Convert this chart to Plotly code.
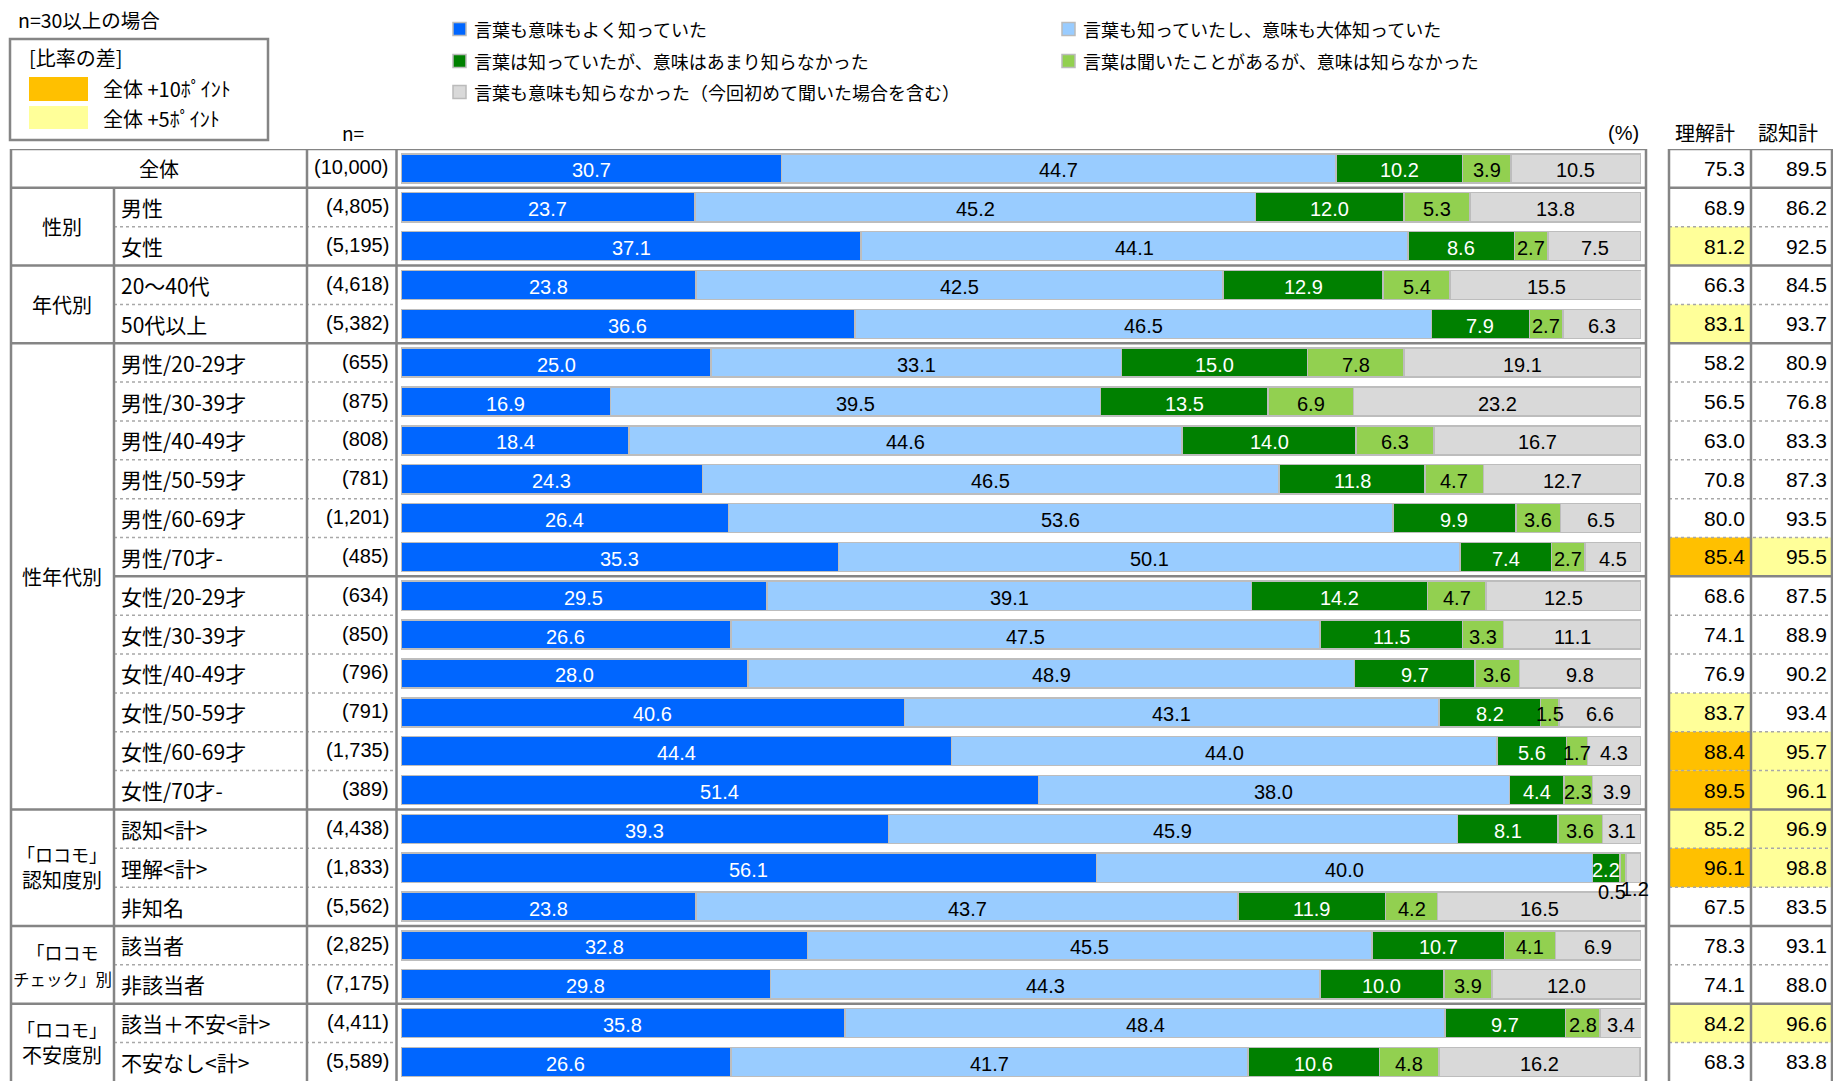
import numpy as np
import plotly.graph_objects as go

W, H = 1833, 1081

# ---------------- data ----------------
series_names = [
    "言葉も意味もよく知っていた",
    "言葉も知っていたし、意味も大体知っていた",
    "言葉は知っていたが、意味はあまり知らなかった",
    "言葉は聞いたことがあるが、意味は知らなかった",
    "言葉も意味も知らなかった（今回初めて聞いた場合を含む）",
]
groups = ["全体", "性別", "年代別", "性年代別",
          "<span style='font-size:18px'>「ロコモ」</span><br>認知度別",
          "<span style='font-size:18px'>「ロコモ</span><br><span style='font-size:16.5px'>チェック」別</span>",
          "<span style='font-size:18px'>「ロコモ」</span><br>不安度別"]
group_sizes = [1, 2, 2, 12, 3, 2, 2]
labels = ["全体", "男性", "女性", "20～40代", "50代以上",
          "男性/20-29才", "男性/30-39才", "男性/40-49才", "男性/50-59才", "男性/60-69才", "男性/70才-",
          "女性/20-29才", "女性/30-39才", "女性/40-49才", "女性/50-59才", "女性/60-69才", "女性/70才-",
          "認知<計>", "理解<計>", "非知名", "該当者", "非該当者", "該当＋不安<計>", "不安なし<計>"]
n_labels = ["(10,000)", "(4,805)", "(5,195)", "(4,618)", "(5,382)",
            "(655)", "(875)", "(808)", "(781)", "(1,201)", "(485)",
            "(634)", "(850)", "(796)", "(791)", "(1,735)", "(389)",
            "(4,438)", "(1,833)", "(5,562)", "(2,825)", "(7,175)", "(4,411)", "(5,589)"]
v_well = [30.7, 23.7, 37.1, 23.8, 36.6, 25.0, 16.9, 18.4, 24.3, 26.4, 35.3,
          29.5, 26.6, 28.0, 40.6, 44.4, 51.4, 39.3, 56.1, 23.8, 32.8, 29.8, 35.8, 26.6]
v_mostly = [44.7, 45.2, 44.1, 42.5, 46.5, 33.1, 39.5, 44.6, 46.5, 53.6, 50.1,
            39.1, 47.5, 48.9, 43.1, 44.0, 38.0, 45.9, 40.0, 43.7, 45.5, 44.3, 48.4, 41.7]
v_little = [10.2, 12.0, 8.6, 12.9, 7.9, 15.0, 13.5, 14.0, 11.8, 9.9, 7.4,
            14.2, 11.5, 9.7, 8.2, 5.6, 4.4, 8.1, 2.2, 11.9, 10.7, 10.0, 9.7, 10.6]
v_heard = [3.9, 5.3, 2.7, 5.4, 2.7, 7.8, 6.9, 6.3, 4.7, 3.6, 2.7,
           4.7, 3.3, 3.6, 1.5, 1.7, 2.3, 3.6, 0.5, 4.2, 4.1, 3.9, 2.8, 4.8]
v_none = [10.5, 13.8, 7.5, 15.5, 6.3, 19.1, 23.2, 16.7, 12.7, 6.5, 4.5,
          12.5, 11.1, 9.8, 6.6, 4.3, 3.9, 3.1, 1.2, 16.5, 6.9, 12.0, 3.4, 16.2]
understand = [75.3, 68.9, 81.2, 66.3, 83.1, 58.2, 56.5, 63.0, 70.8, 80.0, 85.4,
              68.6, 74.1, 76.9, 83.7, 88.4, 89.5, 85.2, 96.1, 67.5, 78.3, 74.1, 84.2, 68.3]
aware = [89.5, 86.2, 92.5, 84.5, 93.7, 80.9, 76.8, 83.3, 87.3, 93.5, 95.5,
         87.5, 88.9, 90.2, 93.4, 95.7, 96.1, 96.9, 98.8, 83.5, 93.1, 88.0, 96.6, 83.8]

values = [v_well, v_mostly, v_little, v_heard, v_none]
colors = ["#0066FF", "#99CCFF", "#008000", "#92D050", "#D9D9D9"]
text_colors = ["white", "black", "white", "black", "black"]
ORANGE, YELLOW = "#FFC000", "#FFFF99"

NROW = len(labels)
ROW_H = 38.85
TOP = 149
rows = list(range(NROW))

NUMFONT = "Liberation Sans, Arial, Noto Sans CJK JP"
JPFONT = "Noto Sans CJK JP, sans-serif"


def px(x):
    return x / W


def py(y):
    return 1 - y / H


fig = go.Figure()

# ---------------- bars ----------------
for k in range(5):
    fig.add_trace(go.Bar(
        y=rows, x=values[k], orientation="h", name=series_names[k],
        marker=dict(color=colors[k], line=dict(color="#BDBDBD", width=1.5)),
        width=0.75, hoverinfo="skip", textposition="none", showlegend=False))

# bar value labels (at segment midpoints on the bar axis)
arr = np.array(values)
cum = np.cumsum(arr, axis=0)
mid = cum - arr / 2
special = {(18, 3): (-11, 24), (18, 4): (1, 21)}  # offset labels for tiny segments
for k in range(5):
    for i in rows:
        dx, dy = special.get((i, k), (0, 2))
        col = "black" if (i, k) in special else text_colors[k]
        fig.add_annotation(x=mid[k, i], y=i, xref="x", yref="y", text=f"{values[k][i]:.1f}",
                           showarrow=False, xshift=dx, yshift=-dy,
                           font=dict(family=NUMFONT, size=20, color=col))

shapes = []
LINE = "#858585"
DOT = "#A8A8A8"

# right table fills
base_u, base_a = understand[0], aware[0]
for i in rows:
    if i == 0:
        continue
    for val, base, x0, x1 in [(understand[i], base_u, 1669, 1751), (aware[i], base_a, 1751, 1833)]:
        fill = None
        if val >= base + 10 - 1e-9:
            fill = ORANGE
        elif val >= base + 5 - 1e-9:
            fill = YELLOW
        if fill:
            shapes.append(dict(type="rect", xref="paper", yref="y", x0=px(x0), x1=px(x1),
                               y0=i - 0.5, y1=i + 0.5, fillcolor=fill, line=dict(width=0),
                               layer="below"))

# row boundaries
group_ends = list(np.cumsum(group_sizes))
sub_breaks = [11]
YB = NROW - 0.5 + 0.2
for b in range(1, NROW):
    yv = b - 0.5
    if b in group_ends:
        for x0, x1 in [(11, 396), (397, 1646), (1669, 1833)]:
            shapes.append(dict(type="line", xref="paper", yref="y", x0=px(x0), x1=px(x1),
                               y0=yv, y1=yv, line=dict(color=LINE, width=2.5)))
    elif b in sub_breaks:
        for x0, x1 in [(114, 396), (397, 1646), (1669, 1833)]:
            shapes.append(dict(type="line", xref="paper", yref="y", x0=px(x0), x1=px(x1),
                               y0=yv, y1=yv, line=dict(color=LINE, width=2.5)))
    else:
        for x0, x1 in [(114, 396), (1669, 1833)]:
            shapes.append(dict(type="line", xref="paper", yref="y", x0=px(x0), x1=px(x1),
                               y0=yv, y1=yv, line=dict(color=DOT, width=1.5, dash="dot")))

# top borders
for x0, x1 in [(11, 396), (397, 1646), (1669, 1833)]:
    shapes.append(dict(type="line", xref="paper", yref="y", x0=px(x0), x1=px(x1),
                       y0=-0.5, y1=-0.5, line=dict(color=LINE, width=2.5)))
# vertical lines
for xv, y0 in [(11, -0.5), (114, 0.5), (307, -0.5), (396.5, -0.5), (1646, -0.5),
               (1669, -0.5), (1751, -0.5), (1832, -0.5)]:
    shapes.append(dict(type="line", xref="paper", yref="y", x0=px(xv), x1=px(xv),
                       y0=y0, y1=YB, line=dict(color=LINE, width=2.5)))

# top legend
legend_pos = [(453, 29), (1062, 29), (453, 61), (1062, 61), (453, 92)]
for k, (lx, ly) in enumerate(legend_pos):
    shapes.append(dict(type="rect", xref="paper", yref="paper", x0=px(lx), x1=px(lx + 13),
                       y0=py(ly + 6.5), y1=py(ly - 6.5), fillcolor=colors[k],
                       line=dict(color="#BBBBBB", width=1.5)))
    fig.add_annotation(x=px(lx + 19), y=py(ly), xref="paper", yref="paper", text=series_names[k],
                       showarrow=False, xanchor="left", yanchor="middle",
                       font=dict(family=JPFONT, size=18, color="black"))

# ratio legend box
shapes.append(dict(type="rect", xref="paper", yref="paper", x0=px(10), x1=px(268),
                   y0=py(140), y1=py(39), line=dict(color=LINE, width=2.5)))
shapes.append(dict(type="rect", xref="paper", yref="paper", x0=px(29), x1=px(88),
                   y0=py(101), y1=py(77), fillcolor=ORANGE, line=dict(width=0)))
shapes.append(dict(type="rect", xref="paper", yref="paper", x0=px(29), x1=px(88),
                   y0=py(129), y1=py(106), fillcolor=YELLOW, line=dict(width=0)))


def ann(x, y, text, anchor="left", size=18, family=JPFONT):
    fig.add_annotation(x=px(x), y=py(y), xref="paper", yref="paper", text=text, showarrow=False,
                       xanchor=anchor, yanchor="middle", font=dict(family=family, size=size, color="black"))


ann(16, 20, "n=30以上の場合", size=19.5)
ann(27, 58, "[比率の差]", size=20)
ann(101, 89, "全体 +10ﾎﾟｲﾝﾄ", size=20)
ann(101, 118, "全体 +5ﾎﾟｲﾝﾄ", size=20)
ann(353, 133, "n=", anchor="center", size=19)
ann(1623, 133, "(%)", anchor="center", size=20, family=NUMFONT)
ann(1705, 133, "理解計", anchor="center", size=20)
ann(1788, 133, "認知計", anchor="center", size=20)

# left table texts
start = 0
for g, sz in zip(groups, group_sizes):
    yc = start + (sz - 1) / 2
    if sz == 1:
        fig.add_annotation(x=px(159), y=yc, xref="paper", yref="y", text=g, showarrow=False,
                           xanchor="center", yanchor="middle",
                           font=dict(family=JPFONT, size=20, color="black"))
    else:
        fig.add_annotation(x=px(62), y=yc, xref="paper", yref="y", text=g, showarrow=False,
                           xanchor="center", yanchor="middle", align="center",
                           font=dict(family=JPFONT, size=20, color="black"))
    start += sz

for i in rows:
    if i > 0:
        fig.add_annotation(x=px(119), y=i, xref="paper", yref="y", text=labels[i], showarrow=False,
                           xanchor="left", yanchor="middle",
                           font=dict(family=JPFONT, size=21, color="black"))
    fig.add_annotation(x=px(391), y=i, xref="paper", yref="y", text=n_labels[i], showarrow=False,
                       xanchor="right", yanchor="middle", yshift=1,
                       font=dict(family=NUMFONT, size=20, color="black"))
    fig.add_annotation(x=px(1747), y=i, xref="paper", yref="y", text=f"{understand[i]:.1f}",
                       showarrow=False, xanchor="right", yanchor="middle",
                       font=dict(family=NUMFONT, size=21, color="black"))
    fig.add_annotation(x=px(1829), y=i, xref="paper", yref="y", text=f"{aware[i]:.1f}",
                       showarrow=False, xanchor="right", yanchor="middle",
                       font=dict(family=NUMFONT, size=21, color="black"))

fig.update_layout(
    width=W, height=H, margin=dict(l=0, r=0, t=0, b=0),
    paper_bgcolor="white", plot_bgcolor="white", barmode="stack", showlegend=False,
    shapes=shapes,
    xaxis=dict(domain=[px(401), px(1641)], range=[0, 100], visible=False, fixedrange=True),
    yaxis=dict(domain=[0, py(TOP)], range=[-0.5 + (H - TOP) / ROW_H, -0.5], visible=False,
               fixedrange=True),
)

fig.write_html("out.html", config={"displayModeBar": False},
               post_script="document.body.style.margin='0';document.body.style.overflow='hidden';")
